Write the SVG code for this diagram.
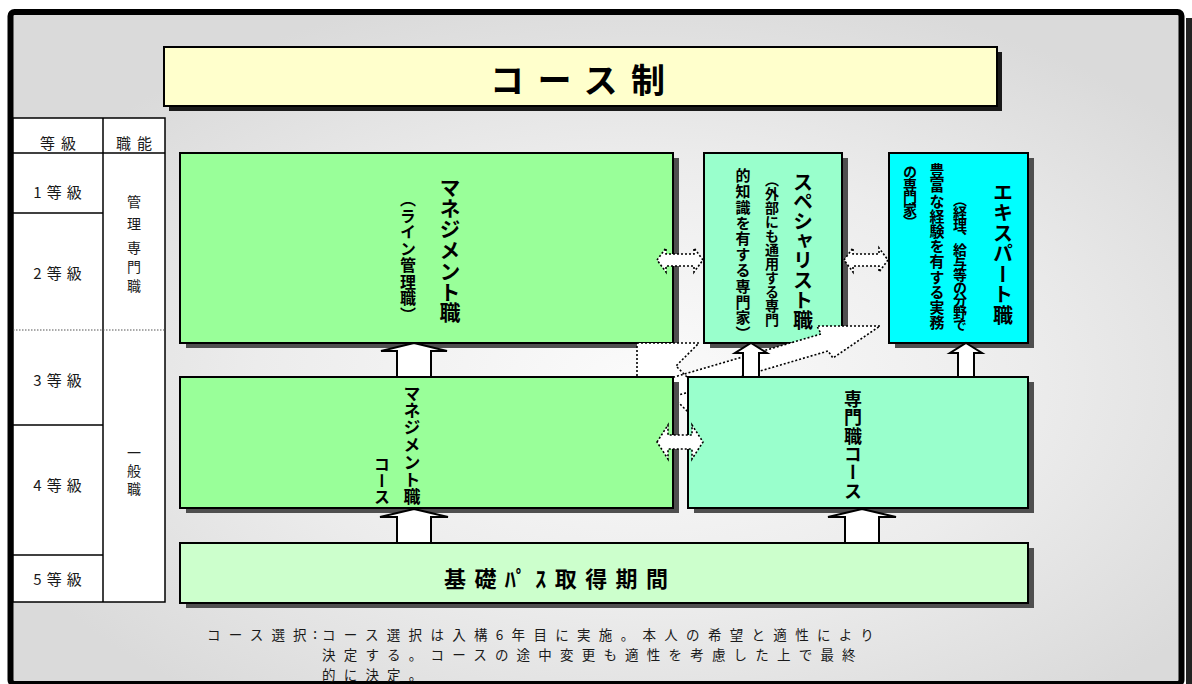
<svg xmlns="http://www.w3.org/2000/svg" width="1192" height="684" viewBox="0 0 1192 684">
<defs>
<radialGradient id="bg" cx="0.54" cy="0.55" r="0.6">
<stop offset="0" stop-color="#fbfbfb"/>
<stop offset="0.55" stop-color="#ececec"/>
<stop offset="1" stop-color="#dadada"/>
</radialGradient>
<style>
.box{stroke:#000;stroke-width:2}
.sh{fill:#4f4f4f}
.vt{font-family:"Noto Sans CJK JP","Noto Sans CJK SC",sans-serif;font-weight:700;writing-mode:vertical-rl;fill:#000}
.tb{font-family:"Noto Sans CJK JP","Noto Sans CJK SC",sans-serif;font-size:15px;fill:#1a1a1a}
.tc{font-family:"Noto Sans CJK JP","Noto Sans CJK SC",sans-serif;font-size:14px;fill:#1a1a1a}
.cap{font-family:"Noto Sans CJK JP","Noto Sans CJK SC",sans-serif;font-size:13.5px;fill:#1a1a1a;letter-spacing:8.2px}
.dotf{fill:#fff;stroke:none}
.dot{fill:none;stroke:#000;stroke-width:1.6;stroke-dasharray:2 2}
.dotw{fill:#fff;stroke:#000;stroke-width:1.6;stroke-dasharray:2 2}
.up{fill:#fff;stroke:#000;stroke-width:2;stroke-linejoin:miter}
</style>
</defs>
<rect x="0" y="0" width="1192" height="684" fill="#fff"/>
<rect x="1186" y="18" width="6" height="666" fill="#222"/>
<rect id="frame" x="10.5" y="12" width="1171" height="672" rx="4" fill="url(#bg)" stroke="#000" stroke-width="6"/>

<g id="title">
<rect x="169" y="52" width="833" height="59" fill="#1a1a1a"/>
<rect class="box" x="164" y="47" width="833" height="59" fill="#ffffcc"/>
<text x="490" y="93" font-family="Noto Sans CJK JP, sans-serif" font-weight="700" font-size="34" textLength="175" fill="#000">コース制</text>
</g>

<g id="grade-table">
<rect x="13" y="118" width="152" height="484" fill="#fff" stroke="#000" stroke-width="1.5"/>
<line x1="103" y1="118" x2="103" y2="602" stroke="#000" stroke-width="1.5"/>
<line x1="13" y1="153" x2="165" y2="153" stroke="#000" stroke-width="1.5"/>
<line x1="13" y1="213" x2="103" y2="213" stroke="#000" stroke-width="1.5"/>
<line x1="13" y1="330" x2="165" y2="330" stroke="#555" stroke-width="1.2" stroke-dasharray="1.5 1.5"/>
<line x1="13" y1="425" x2="103" y2="425" stroke="#000" stroke-width="1.5"/>
<line x1="13" y1="555" x2="103" y2="555" stroke="#000" stroke-width="1.5"/>
<text class="tb" x="61" y="149" text-anchor="middle" letter-spacing="6">等級</text>
<text class="tb" x="137" y="149" text-anchor="middle" letter-spacing="6">職能</text>
<text class="tb" x="60" y="198" text-anchor="middle" letter-spacing="5">1等級</text>
<text class="tb" x="60" y="279" text-anchor="middle" letter-spacing="5">2等級</text>
<text class="tb" x="60" y="386" text-anchor="middle" letter-spacing="5">3等級</text>
<text class="tb" x="60" y="491" text-anchor="middle" letter-spacing="5">4等級</text>
<text class="tb" x="60" y="585" text-anchor="middle" letter-spacing="5">5等級</text>
<text class="tc" x="134" y="207" text-anchor="middle">管</text>
<text class="tc" x="134" y="229" text-anchor="middle">理</text>
<text class="tc" x="134" y="253" text-anchor="middle">専</text>
<text class="tc" x="134" y="272" text-anchor="middle">門</text>
<text class="tc" x="134" y="291" text-anchor="middle">職</text>
<text class="tc" x="134" y="458" text-anchor="middle">一</text>
<text class="tc" x="134" y="476" text-anchor="middle">般</text>
<text class="tc" x="134" y="494" text-anchor="middle">職</text>
</g>

<g id="management">
<rect class="sh" x="186" y="158" width="493" height="190"/>
<rect class="box" x="180" y="153" width="493" height="190" fill="#99ff99"/>
<text class="vt" x="450" y="177" font-size="21" textLength="146">マネジメント職</text>
<text class="vt" x="408" y="191" font-size="16" letter-spacing="0.5">（ライン管理職）</text>
</g>

<g id="specialist">
<rect class="sh" x="710" y="158" width="138" height="190"/>
<rect class="box" x="704" y="153" width="138" height="190" fill="#99ffcc"/>
<text class="vt" x="803" y="172" font-size="20" textLength="158">スペシャリスト職</text>
<text class="vt" x="772" y="173" font-size="14" textLength="154">（外部にも通用する専門</text>
<text class="vt" x="743" y="168" font-size="15" letter-spacing="0.8">的知識を有する専門家）</text>
</g>

<g id="expert">
<rect class="sh" x="895" y="158" width="139" height="190"/>
<rect class="box" x="889" y="153" width="139" height="190" fill="#00ffff"/>
<text class="vt" x="1003" y="182" font-size="20" textLength="143">エキスパート職</text>
<text class="vt" x="960" y="193" font-size="14" textLength="139">（経理、給与等の分野で</text>
<text class="vt" x="937" y="163" font-size="15" textLength="167">豊富な経験を有する実務</text>
<text class="vt" x="910" y="165" font-size="14" textLength="64">の専門家）</text>
</g>

<g id="connectors-diagonal">
<polygon class="dotf" points="880,326 817,326 821,334 640,387 655,402 828,351 833,358"/>
<polygon class="dotf" points="637,343 699,343 676,366 726,416 709,433 659,383 637,405"/>
<polygon class="dot" points="880,326 817,326 821,334 640,387 655,402 828,351 833,358"/>
<polygon class="dot" points="637,343 699,343 676,366 726,416 709,433 659,383 637,405"/>
</g>

<g id="management-course">
<rect class="sh" x="186" y="382" width="493" height="131"/>
<rect class="box" x="180" y="377" width="493" height="131" fill="#99ff99"/>
<text class="vt" x="412" y="385" font-size="17" textLength="120">マネジメント職</text>
<text class="vt" x="382" y="456" font-size="16" textLength="49">コース</text>
</g>

<g id="specialist-course">
<rect class="sh" x="694" y="382" width="340" height="131"/>
<rect class="box" x="688" y="377" width="340" height="131" fill="#99ffcc"/>
<text class="vt" x="853" y="390" font-size="18" textLength="110">専門職コース</text>
</g>

<g id="basic">
<rect class="sh" x="186" y="548" width="848" height="60"/>
<rect class="box" x="180" y="543" width="848" height="60" fill="#ccffcc"/>
<text x="444" y="587" font-family="Noto Sans CJK JP, sans-serif" font-weight="700" font-size="22" textLength="224" fill="#000">基礎ﾊﾟｽ取得期間</text>
</g>

<g id="connectors">
<polygon class="up" points="414,343 447,351 431,351 431,377 397,377 397,351 381,351"/>
<polygon class="up" points="414,509 448,517 431,517 431,543 397,543 397,517 380,517"/>
<polygon class="up" points="862,509 896,517 879,517 879,543 845,543 845,517 828,517"/>
<polygon class="up" points="751,343 767,353 759,353 759,377 743,377 743,353 735,353"/>
<polygon class="up" points="966,343 982,353 974,353 974,377 958,377 958,353 950,353"/>
<polygon class="dotw" points="657,260 666,248 666,254 694,254 694,248 703,260 694,272 694,266 666,266 666,272"/>
<polygon class="dotw" points="844,260 853,248 853,254 879,254 879,248 888,260 879,272 879,266 853,266 853,272"/>
<polygon class="dotw" points="657,442 668,425 668,435 692,435 692,425 703,442 692,459 692,449 668,449 668,459"/>
</g>

<g id="note">
<text class="cap" x="207" y="640">コース選択</text>
<text class="tb" x="313" y="639">:</text>
<text class="cap" x="322" y="640" textLength="560">コース選択は入構6年目に実施。本人の希望と適性により</text>
<text class="cap" x="322" y="660">決定する。コースの途中変更も適性を考慮した上で最終</text>
<text class="cap" x="322" y="680">的に決定。</text>
</g>
</svg>
